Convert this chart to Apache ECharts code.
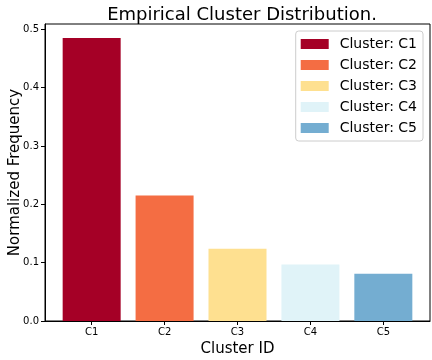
<!DOCTYPE html>
<html>
<head>
<meta charset="utf-8">
<script src="https://cdn.jsdelivr.net/npm/echarts@6/dist/echarts.min.js"></script>
<style>
  html, body { margin: 0; padding: 0; background: #fff; }
  #chart { width: 432px; height: 360px; }
</style>
</head>
<body>
<div id="chart"></div>
<script>
const categories = ['C1', 'C2', 'C3', 'C4', 'C5']
const values = [0.485, 0.215, 0.124, 0.097, 0.081]
const colors = ['#a50026', '#f46d43', '#fee090', '#e0f3f8', '#74add1']
const yTicks = [0, 0.1, 0.2, 0.3, 0.4, 0.5]
const xTicks = [0, 1, 2, 3, 4]

const font = 'DejaVu Sans'
const chart = echarts.init(document.getElementById('chart'))

// one series per cluster so each gets its own legend entry
const series = categories.map((c, i) => ({
  name: 'Cluster: ' + c,
  type: 'bar',
  barWidth: 58,
  barGap: '-100%',
  itemStyle: { color: colors[i] },
  data: [[i, values[i]]]
}))

chart.setOption({
  animation: false,
  title: {
    text: 'Empirical Cluster Distribution.',
    left: 237,
    textAlign: 'center',
    top: 1,
    textStyle: { fontFamily: font, fontSize: 18, fontWeight: 'normal', color: '#000' }
  },
  legend: {
    orient: 'vertical',
    right: 9,
    top: 31,
    itemWidth: 28,
    itemHeight: 10,
    itemGap: 7,
    padding: [6, 6, 6, 5],
    borderColor: '#cccccc',
    borderWidth: 1,
    borderRadius: 3,
    backgroundColor: 'rgba(255,255,255,0.8)',
    textStyle: { fontFamily: font, fontSize: 14, color: '#000', padding: [0, 0, 0, 6] },
    data: series.map(s => ({ name: s.name, icon: 'rect' }))
  },
  grid: {
    left: 45, right: 2, top: 24, bottom: 39,
    outerBoundsMode: 'none',
    containLabel: false,
    show: true, borderColor: '#000', borderWidth: 1
  },
  xAxis: {
    type: 'value',
    min: -0.64,
    max: 4.64,
    name: 'Cluster ID',
    nameLocation: 'middle',
    nameGap: 21,
    nameMoveOverlap: false,
    nameTextStyle: { fontFamily: font, fontSize: 15, color: '#000' },
    axisLine: { onZero: false, lineStyle: { color: '#000' } },
    axisTick: { customValues: xTicks, length: 4, lineStyle: { color: '#000' } },
    axisLabel: {
      customValues: xTicks,
      formatter: v => categories[v],
      fontFamily: font, fontSize: 10, color: '#000', margin: 6
    },
    splitLine: { show: false }
  },
  yAxis: {
    type: 'value',
    min: 0,
    max: 0.509,
    name: 'Normalized Frequency',
    nameLocation: 'middle',
    nameGap: 22,
    nameMoveOverlap: false,
    nameTextStyle: { fontFamily: font, fontSize: 15, color: '#000' },
    axisLine: { show: true, onZero: false, lineStyle: { color: '#000' } },
    axisTick: { show: true, customValues: yTicks, length: 4, lineStyle: { color: '#000' } },
    axisLabel: {
      customValues: yTicks,
      formatter: v => v.toFixed(1),
      fontFamily: font, fontSize: 10, color: '#000', margin: 6
    },
    splitLine: { show: false }
  },
  series: series
})
</script>
</body>
</html>
